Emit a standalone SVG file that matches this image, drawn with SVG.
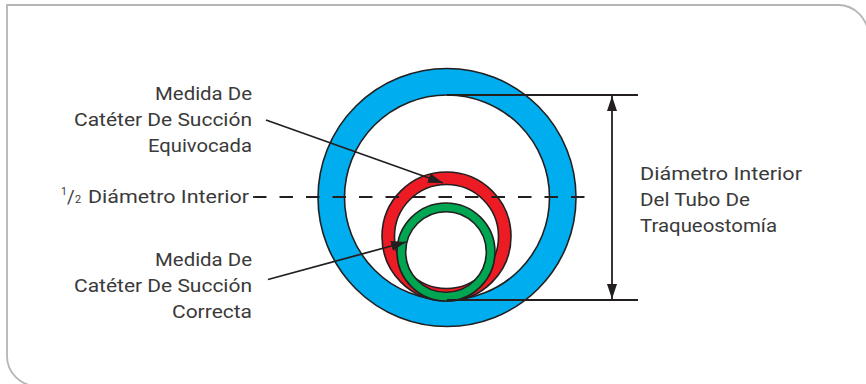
<svg xmlns="http://www.w3.org/2000/svg" width="866" height="384" viewBox="0 0 866 384">
<style>
.t{font-family:Roboto,"Liberation Sans",sans-serif;font-size:18.5px;fill:#3a3a3a}
.ring{stroke:#231f20;stroke-width:1.6;fill-rule:evenodd}
.ln{stroke:#231f20;stroke-width:1.8;fill:none}
</style>
<defs>
<marker id="ah" markerUnits="userSpaceOnUse" markerWidth="16" markerHeight="12" refX="15" refY="5" orient="auto-start-reverse" viewBox="0 0 16 10">
<path d="M0,0 L15,5 L0,10 Z" fill="#231f20"/>
</marker>
</defs>
<rect width="866" height="384" fill="#fff"/>
<path d="M37,386 A30,30 0 0 1 7,356 L7,5 L838,5 A30,30 0 0 1 868,35" fill="none" stroke="#b5b5b5" stroke-width="1.8"/>

<g id="tube">
<path class="ring" fill="#00aeef" d="M318,197.5 a129,129 0 1,0 258,0 a129,129 0 1,0 -258,0 Z M344.5,197.5 a102.5,102.5 0 1,0 205,0 a102.5,102.5 0 1,0 -205,0 Z"/>
</g>
<g id="wrong-catheter">
<path class="ring" fill="#ed1c24" d="M382,236.5 a64.5,64.5 0 1,0 129,0 a64.5,64.5 0 1,0 -129,0 Z M394.5,236.5 a52,52 0 1,0 104,0 a52,52 0 1,0 -104,0 Z"/>
</g>
<g id="correct-catheter">
<path class="ring" fill="#00a651" d="M397,252 a49,49 0 1,0 98,0 a49,49 0 1,0 -98,0 Z M405.7,252 a40.3,40.3 0 1,0 80.6,0 a40.3,40.3 0 1,0 -80.6,0 Z"/>
</g>

<g id="connectors">
<line class="ln" x1="447" y1="95" x2="638" y2="95"/>
<line class="ln" x1="447" y1="300" x2="638" y2="300"/>
<line class="ln" x1="612" y1="96" x2="612" y2="299" marker-start="url(#ah)" marker-end="url(#ah)"/>
<line class="ln" x1="266" y1="120" x2="443" y2="183" marker-end="url(#ah)"/>
<line class="ln" x1="268" y1="279.5" x2="406" y2="242" marker-end="url(#ah)"/>
<line class="ln" x1="253" y1="197" x2="590" y2="197" stroke-dasharray="13.5 13"/>
</g>

<g id="label-wrong">
<text class="t" text-anchor="end" x="252" y="100" textLength="97" lengthAdjust="spacingAndGlyphs">Medida De</text>
<text class="t" text-anchor="end" x="252" y="126" textLength="178" lengthAdjust="spacingAndGlyphs">Catéter De Succión</text>
<text class="t" text-anchor="end" x="252" y="152" textLength="104" lengthAdjust="spacingAndGlyphs">Equivocada</text>
</g>
<g id="label-half">
<text class="t"><tspan x="61" y="195" font-size="10.5">1</tspan><tspan x="67" y="203">/</tspan><tspan x="75" y="203" font-size="11">2</tspan><tspan x="88" y="203" textLength="161" lengthAdjust="spacingAndGlyphs">Diámetro Interior</tspan></text>
</g>
<g id="label-correct">
<text class="t" text-anchor="end" x="252" y="266" textLength="97" lengthAdjust="spacingAndGlyphs">Medida De</text>
<text class="t" text-anchor="end" x="252" y="292" textLength="178" lengthAdjust="spacingAndGlyphs">Catéter De Succión</text>
<text class="t" text-anchor="end" x="252" y="318" textLength="80" lengthAdjust="spacingAndGlyphs">Correcta</text>
</g>
<g id="label-diameter">
<text class="t" x="640" y="180" textLength="162" lengthAdjust="spacingAndGlyphs">Diámetro Interior</text>
<text class="t" x="640" y="206" textLength="110" lengthAdjust="spacingAndGlyphs">Del Tubo De</text>
<text class="t" x="640" y="232" textLength="137" lengthAdjust="spacingAndGlyphs">Traqueostomía</text>
</g>
</svg>
